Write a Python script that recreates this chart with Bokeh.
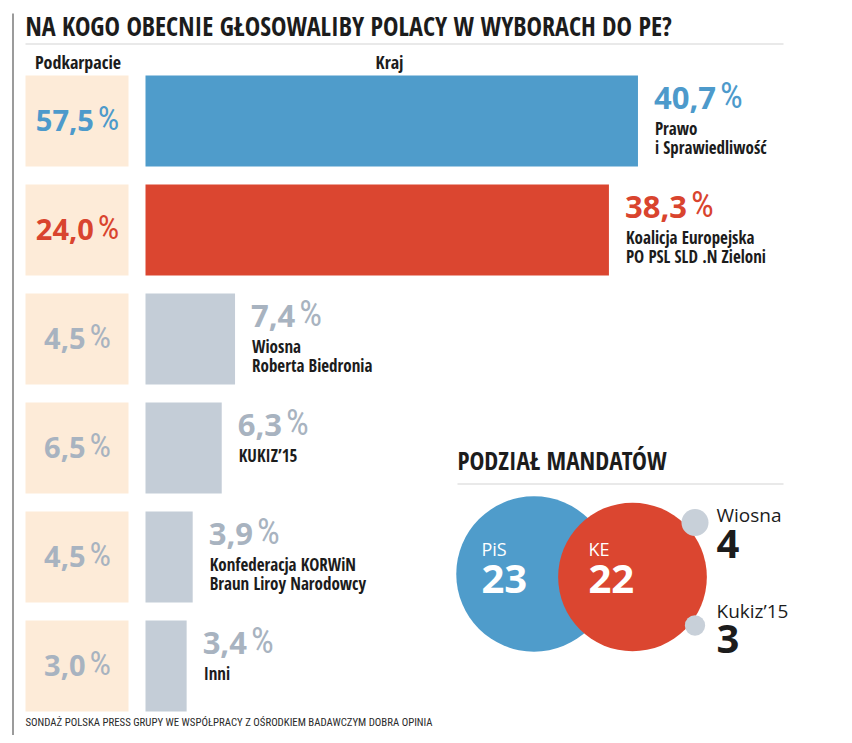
from bokeh.plotting import figure
from bokeh.models import Range1d, ColumnDataSource
from bokeh.core.properties import value
from bokeh.embed import file_html
from bokeh.resources import INLINE

# ---------------- data ----------------
title = "NA KOGO OBECNIE GŁOSOWALIBY POLACY W WYBORACH DO PE?"
party_line1 = ["Prawo", "Koalicja Europejska", "Wiosna", "KUKIZ’15", "Konfederacja KORWiN", "Inni"]
party_line2 = ["i Sprawiedliwość", "PO PSL SLD .N Zieloni", "Roberta Biedronia", "", "Braun Liroy Narodowcy", ""]
kraj = [40.7, 38.3, 7.4, 6.3, 3.9, 3.4]
podkarpacie = [57.5, 24.0, 4.5, 6.5, 4.5, 3.0]
seat_party = ["PiS", "KE", "Wiosna", "Kukiz’15"]
seats = [23, 22, 4, 3]
footer = "SONDAŻ POLSKA PRESS GRUPY WE WSPÓŁPRACY Z OŚRODKIEM BADAWCZYM DOBRA OPINIA"

# ---------------- style / layout ----------------
BLUE, RED, GREY = "#4f9ccb", "#db4630", "#c4cdd7"
BLUE_T, RED_T, GREY_T = "#4d9acb", "#d9442e", "#a8b3c0"
PEACH = "#fdebd8"
INK = "#1c1c1c"
bar_colors = [BLUE, RED, GREY, GREY, GREY, GREY]
txt_colors = [BLUE_T, RED_T, GREY_T, GREY_T, GREY_T, GREY_T]
seat_colors = [BLUE, RED, "#c8d0d9", "#c8d0d9"]

COND = "Open Sans Condensed"
THIN = "Roboto Condensed"
NUMF = "Open Sans"
OPEN = "Open Sans"

W, H = 836, 735
K = 12.1           # px per percent
BAR_X = 145        # x of bar origin
ROW_TOP0, PITCH, ROW_H = 75, 109, 91
NUM_FS = 31
PK_FS = 29
PCT_FS = 36
BL = 0.37          # baseline correction (fraction of font size)

def yb(y, fs):
    return y - BL * fs

def fmt(v):
    return f"{v:.1f}".replace(".", ",")

def num_w(s, fs=NUM_FS):
    return sum((0.286 if c == "," else 0.572) for c in s) * fs

GAP = 4

p = figure(width=W, height=H, x_range=Range1d(0, W), y_range=Range1d(H, 0),
           output_backend="svg", toolbar_location=None, min_border=0,
           x_axis_type=None, y_axis_type=None)
p.grid.visible = False
p.outline_line_color = None
p.background_fill_color = "white"
p.border_fill_color = "white"
p.extra_x_ranges = {"pct": Range1d(-BAR_X / K, (W - BAR_X) / K)}

n = len(kraj)
tops = [ROW_TOP0 + i * PITCH for i in range(n)]
bottoms = [t + ROW_H for t in tops]

# frame lines
p.segment(x0=[12.5], y0=[13], x1=[12.5], y1=[H], line_color="#7a7a7a", line_width=1.5)
p.segment(x0=[25], y0=[43.5], x1=[783], y1=[43.5], line_color="#d4d4d4", line_width=1.2)
p.segment(x0=[457], y0=[483.5], x1=[783], y1=[483.5], line_color="#d4d4d4", line_width=1.2)

# title & headers
p.text(x=[25], y=[yb(35, 26)], text=[title], text_font=value(COND), text_font_style="bold",
       text_font_size="26px", text_color=INK, text_baseline="alphabetic")
p.text(x=[77.5, 389], y=[yb(68, 18)] * 2, text=["Podkarpacie", "Kraj"], text_font=value(COND),
       text_font_style="bold", text_font_size="18px", text_color=INK,
       text_align="center", text_baseline="alphabetic")

# Podkarpacie boxes and values
p.quad(left=25, right=128, top=tops, bottom=bottoms, color=PEACH, line_color=None)
pk_txt = [fmt(v) for v in podkarpacie]
pk_end = []
for s in pk_txt:
    tot = num_w(s, PK_FS) + GAP + 0.6 * (PCT_FS - 2)
    pk_end.append(76.5 - tot / 2 + num_w(s, PK_FS))
pk_src = ColumnDataSource(dict(x=pk_end, xp=[e + GAP for e in pk_end],
                               y=[t + ROW_H / 2 + 10 for t in tops], t=pk_txt,
                               pc=["%"] * n, c=txt_colors))
pk_src.data["yn"] = [yb(v, PK_FS) for v in pk_src.data["y"]]
pk_src.data["yp"] = [yb(v, PCT_FS - 2) for v in pk_src.data["y"]]
p.text(x="x", y="yn", text="t", source=pk_src, text_font=value(NUMF), text_font_style="bold",
       text_font_size=f"{PK_FS}px", text_color="c", text_align="right", text_baseline="alphabetic")
p.text(x="xp", y="yp", text="pc", source=pk_src, text_font=value(THIN),
       text_font_size=f"{PCT_FS - 2}px", text_color="c", text_align="left", text_baseline="alphabetic")

# Kraj bars
kr_src = ColumnDataSource(dict(
    right=kraj, top=tops, bottom=bottoms, fc=bar_colors, tc=txt_colors,
    t=[fmt(v) for v in kraj], pc=["%"] * n,
    off_pct=[16 + num_w(fmt(v)) + GAP for v in kraj],
    ynum=[yb(t + 34, NUM_FS) for t in tops], ypct=[yb(t + 34, PCT_FS) for t in tops],
    yl1=[yb(t + 59, 17) for t in tops], yl2=[yb(t + 78, 17) for t in tops],
    l1=party_line1, l2=party_line2))
p.quad(left=0, right="right", top="top", bottom="bottom", source=kr_src, fill_color="fc",
       line_color=None, x_range_name="pct")
p.text(x="right", y="ynum", text="t", source=kr_src, x_offset=16, x_range_name="pct",
       text_font=value(NUMF), text_font_style="bold", text_font_size=f"{NUM_FS}px",
       text_color="tc", text_baseline="alphabetic")
p.text(x="right", y="ypct", text="pc", source=kr_src, x_offset="off_pct", x_range_name="pct",
       text_font=value(THIN), text_font_size=f"{PCT_FS}px",
       text_color="tc", text_baseline="alphabetic")
for col in ("l1", "l2"):
    p.text(x="right", y="y" + col, text=col, source=kr_src, x_offset=17, x_range_name="pct",
           text_font=value(COND), text_font_style="bold", text_font_size="17px",
           text_color=INK, text_baseline="alphabetic")

# Seats (Podział mandatów)
p.text(x=[457], y=[yb(469, 25)], text=["PODZIAŁ MANDATÓW"], text_font=value(COND), text_font_style="bold",
       text_font_size="25px", text_color=INK, text_baseline="alphabetic")
seat_x = [533.5, 632, 694.5, 694.5]
seat_y = [573.5, 576.5, 522, 625]
seat_src = ColumnDataSource(dict(x=seat_x, y=seat_y, size=[s * 6.76 for s in seats], c=seat_colors))
p.scatter(x="x", y="y", size="size", source=seat_src, marker="circle", fill_color="c", line_color=None)

lab_x = [481, 588, 716, 716]
lab_y = [555, 555, 522, 618]
num_y = [593, 593, 558, 653]
lab_c = ["white", "white", INK, INK]
lab_fs = [18, 18, 19, 19]
num_fs = [40, 40, 40, 40]
sl_src = ColumnDataSource(dict(x=lab_x, y=[yb(v, f) for v, f in zip(lab_y, lab_fs)],
                               yn=[yb(v, f) for v, f in zip(num_y, num_fs)],
                               t=seat_party, n=[str(s) for s in seats], c=lab_c,
                               fs=[f"{f}px" for f in lab_fs], nfs=[f"{f}px" for f in num_fs]))
p.text(x="x", y="y", text="t", source=sl_src, text_font=value(OPEN), text_font_size="fs",
       text_color="c", text_baseline="alphabetic")
p.text(x="x", y="yn", text="n", source=sl_src, text_font=value(OPEN), text_font_style="bold",
       text_font_size="nfs", text_color="c", text_baseline="alphabetic")

# footer
p.text(x=[25], y=[yb(726, 11)], text=[footer], text_font=value(THIN), text_font_size="10.8px",
       text_color="#2a2a2a", text_baseline="alphabetic")

open("out.html", "w").write(file_html(p, INLINE))
